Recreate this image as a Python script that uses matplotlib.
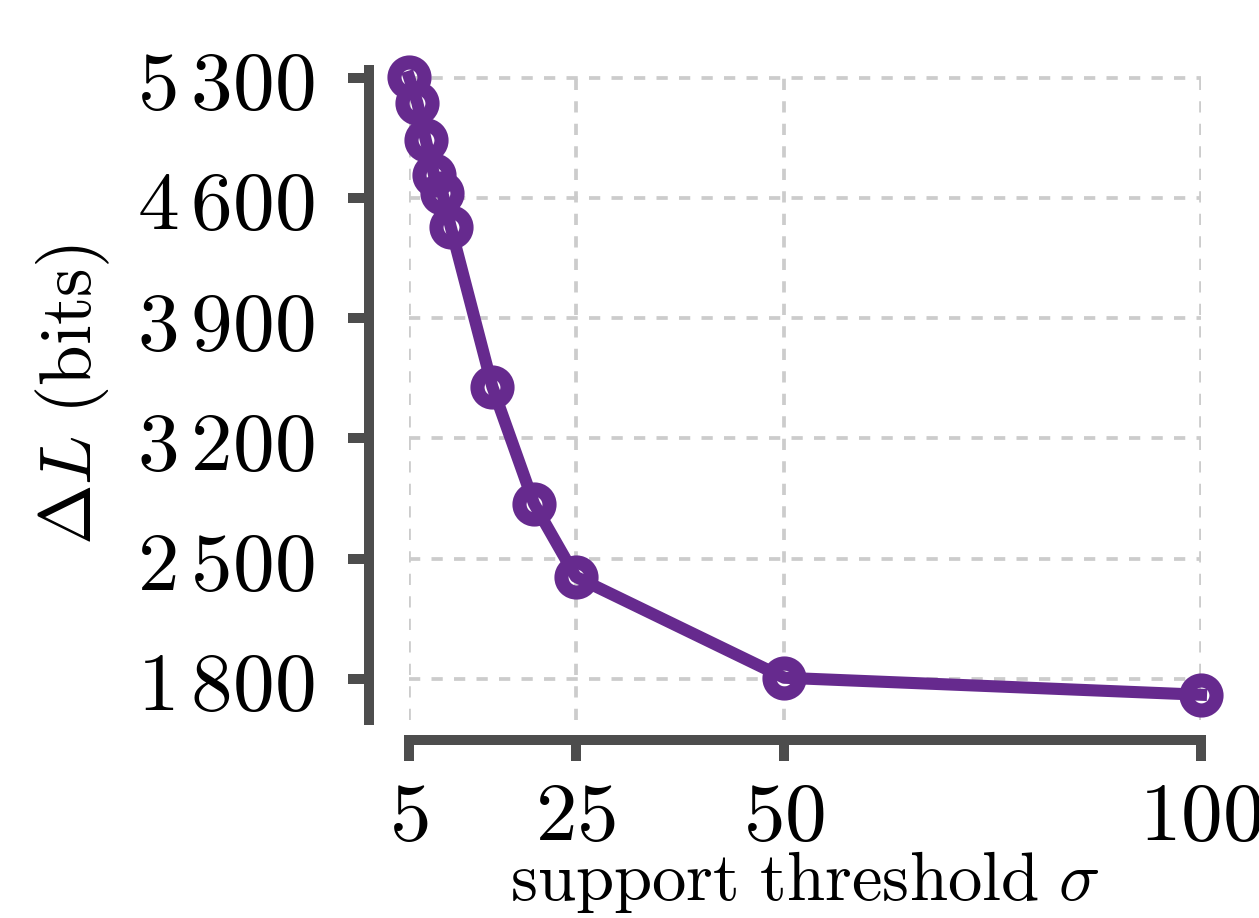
import matplotlib
matplotlib.use('Agg')
import matplotlib.pyplot as plt

plt.rcParams['mathtext.fontset'] = 'cm'
plt.rcParams['font.family'] = ['DejaVu Serif']

# support threshold vs. Delta L
sigma = [5, 6, 7, 8, 9, 10, 15, 20, 25, 50, 100]
delta_l = [5305, 5154, 4939, 4735, 4630, 4432, 3500, 2819, 2394, 1806, 1707]

xticks = [5, 25, 50, 100]
yticks = [1800, 2500, 3200, 3900, 4600, 5300]

purple = '#662a8e'
grey = '#4d4d4d'

fig = plt.figure(figsize=(1259 / 300, 918 / 300), dpi=300)
ax = fig.add_axes([409 / 1259, 1 - 720 / 918, (1201 - 409) / 1259, (720 - 70) / 918])

ax.plot(sigma, delta_l, color=purple, lw=2.9, marker='o', ms=7.2, mew=3.4,
        mfc='none', mec=purple, clip_on=False, zorder=3)

ax.set_xlim(5, 100)
ax.set_ylim(1560, 5345)
ax.set_xticks(xticks)
ax.set_yticks(yticks)
ax.set_xticklabels([r'$%d$' % v for v in xticks])
ax.set_yticklabels([r'$%d\,%03d$' % (v // 1000, v % 1000) for v in yticks])

ax.grid(True, ls=(0, (3, 3)), color='#cccccc', lw=0.9)
ax.set_axisbelow(True)

for s in ['top', 'right']:
    ax.spines[s].set_visible(False)
ax.spines['left'].set_position(('outward', 9.6))
ax.spines['bottom'].set_position(('outward', 4.8))
for s in ['left', 'bottom']:
    ax.spines[s].set_color(grey)
    ax.spines[s].set_linewidth(2.4)
ax.tick_params(axis='both', direction='out', length=5, width=2.4, color=grey,
               labelsize=20, labelcolor='black')
ax.tick_params(axis='y', pad=8)
ax.tick_params(axis='x', pad=4)

ax.set_xlabel(r'$\mathrm{support\ threshold}\ \sigma$', fontsize=16.5, labelpad=-2.2)
ax.set_ylabel(r'$\Delta L\ \mathrm{(bits)}$', fontsize=17.5, labelpad=6)

fig.savefig('out.png', dpi=300)
